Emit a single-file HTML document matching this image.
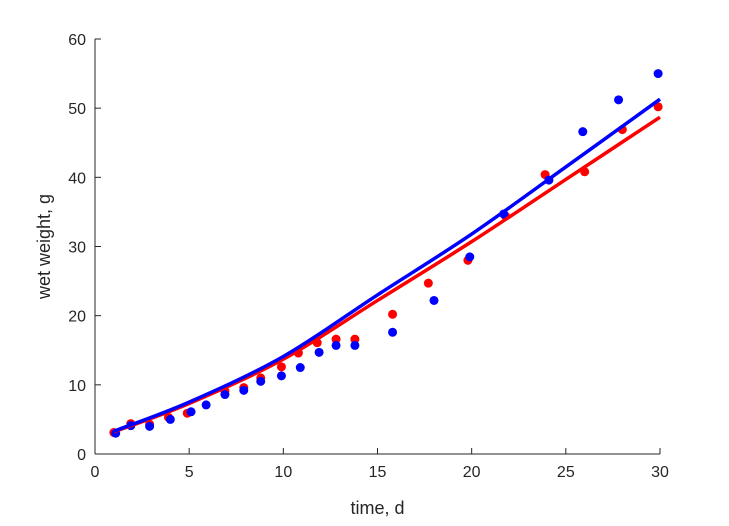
<!DOCTYPE html>
<html><head><meta charset="utf-8"><style>
body{margin:0;background:#fff;}
svg text{font-family:"Liberation Sans",sans-serif;fill:#262626;}
</style></head><body>
<svg id="chart" width="729" height="521">
<rect width="729" height="521" fill="#fff"/>
<g id="axes"></g><g id="marks"></g>
</svg>
<script>
const xTicks=[0,5,10,15,20,25,30];
const yTicks=[0,10,20,30,40,50,60];
const redX=[1,1.9,2.9,3.9,4.9,6.9,7.9,8.8,9.9,10.8,11.8,12.8,13.8,15.8,17.7,19.8,21.8,23.9,26,28,29.9];
const redY=[3.1,4.4,4.3,5.3,5.9,9.1,9.6,11.0,12.6,14.6,16.1,16.6,16.6,20.2,24.7,28.0,34.4,40.4,40.8,46.9,50.2];
const blueX=[1.1,1.9,2.9,4,5.1,5.9,6.9,7.9,8.8,9.9,10.9,11.9,12.8,13.8,15.8,18,19.9,21.7,24.1,25.9,27.8,29.9];
const blueY=[3.0,4.1,4.0,5.0,6.1,7.1,8.6,9.2,10.5,11.3,12.5,14.7,15.7,15.7,17.6,22.2,28.5,34.7,39.6,46.6,51.2,55.0];
const fitX=[1,5,10,15,20,25,30];
const redFit=[3.2,7.3,13.7,22.2,30.7,39.7,48.7];
const blueFit=[3.3,7.5,14.1,23.0,31.8,41.5,51.3];
const X0=95,X1=660,Y0=454,Y1=39;
const sx=v=>X0+(v-0)/(30-0)*(X1-X0);
const sy=v=>Y0-(v-0)/(60-0)*(Y0-Y1);
const NS="http://www.w3.org/2000/svg";
function mk(tag,attrs,parent){const e=document.createElementNS(NS,tag);for(const k in attrs)e.setAttribute(k,attrs[k]);parent.appendChild(e);return e;}
const axes=document.getElementById('axes'),marks=document.getElementById('marks');
let a=mk('line',{x1:X0,y1:Y0,x2:X1,y2:Y0,stroke:'#262626','stroke-width':1},axes);

a=mk('line',{x1:X0,y1:Y0,x2:X0,y2:Y1,stroke:'#262626','stroke-width':1},axes);

xTicks.forEach(t=>{const x=sx(t);
 let l=mk('line',{x1:x,y1:Y0,x2:x,y2:Y0-6,stroke:'#262626'},axes);
 
 let tx=mk('text',{x:x,y:Y0+23,'text-anchor':'middle','font-size':16},axes);tx.textContent=t;
 });
yTicks.forEach(t=>{const y=sy(t);
 let l=mk('line',{x1:X0,y1:y,x2:X0+6,y2:y,stroke:'#262626'},axes);
 
 let tx=mk('text',{x:X0-9,y:y+6,'text-anchor':'end','font-size':16},axes);tx.textContent=t;
 });
let xt=mk('text',{x:(X0+X1)/2,y:514,'text-anchor':'middle','font-size':18},axes);xt.textContent='time, d';

let yt=mk('text',{x:0,y:0,'text-anchor':'middle','font-size':18,transform:`translate(50,${(Y0+Y1)/2}) rotate(-90)`},axes);yt.textContent='wet weight, g';

function pts(xs,ys,col,name){xs.forEach((x,i)=>{const c=mk('circle',{cx:sx(x),cy:sy(ys[i]),r:4.5,fill:col},marks);
 });}
function curve(xs,ys,col,name){const P=xs.map((x,i)=>[sx(x),sy(ys[i])]);let d='M'+P[0].join(',');
 for(let i=0;i<P.length-1;i++){const p0=P[i-1]||P[i],p1=P[i],p2=P[i+1],p3=P[i+2]||P[i+1];
  d+=` C${p1[0]+(p2[0]-p0[0])/6},${p1[1]+(p2[1]-p0[1])/6} ${p2[0]-(p3[0]-p1[0])/6},${p2[1]-(p3[1]-p1[1])/6} ${p2[0]},${p2[1]}`;}
 const p=mk('path',{d:d,fill:'none',stroke:col,'stroke-width':3.5},marks);
 }
pts(redX,redY,'#ff0000','red-data-point');
pts(blueX,blueY,'#0000ff','blue-data-point');
curve(fitX,redFit,'#ff0000','red-fit-line');
curve(fitX,blueFit,'#0000ff','blue-fit-line');
</script>
</body></html>
